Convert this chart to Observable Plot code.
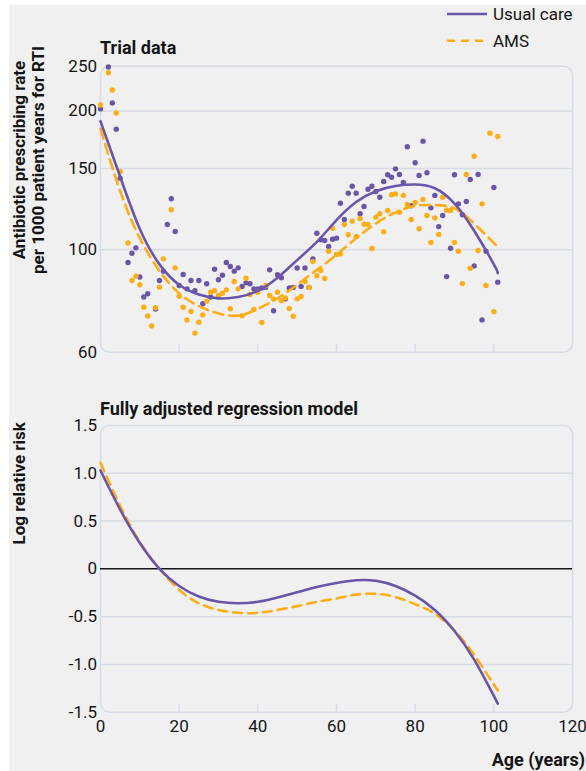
<!DOCTYPE html>
<html>
<head>
<meta charset="utf-8">
<script src="https://cdn.jsdelivr.net/npm/d3@7"></script>
<script src="https://cdn.jsdelivr.net/npm/@observablehq/plot@0.6"></script>
<style>
html, body { margin: 0; padding: 0; width: 586px; height: 771px; overflow: hidden; background: #ffffff; }
#bg { position: absolute; left: 9px; top: 5px; width: 577px; height: 766px; background: #f0f0f0; }
.abs { position: absolute; left: 0; }
#overlay { position: absolute; left: 0; top: 0; pointer-events: none; }
</style>
</head>
<body>
<div id="bg"></div>
<div id="top" class="abs" style="top:0px"></div>
<div id="bottom" class="abs" style="top:360px"></div>
<svg id="overlay" width="586" height="771" xmlns="http://www.w3.org/2000/svg"></svg>
<script>
// ---------- DATA ----------
// Trial data: antibiotic prescribing rate per 1000 patient years for RTI, by age
const usualAge  = [0,2,3,4,5,7,8,9,10,11,12,14,15,16,17,18,19,20,21,22,23,24,25,26,27,28,29,30,31,32,33,34,35,36,37,38,39,40,41,42,43,44,45,46,47,48,49,50,51,52,53,54,55,56,57,58,59,60,61,62,63,64,65,66,67,68,69,70,71,72,73,74,75,76,77,78,79,80,81,82,83,84,85,86,87,88,89,90,91,92,93,94,95,96,97,98,100,101];
const usualRate = [202,249,208,182.6,143,93.9,98.3,101,87.3,79,80.3,74.4,85.8,89.9,113.5,129,109.6,83.7,88.4,82.3,85.8,81.6,85.8,76.4,84.4,79,90.8,86.1,88.1,93.9,92,89.9,91.4,83.3,84.8,84.4,82.3,82.3,82.7,82.9,90.5,73.8,88.3,87,78.3,82.7,82.9,91.3,83.3,91.3,82.9,95.6,108.6,105.1,104.8,101.7,105.4,106,126.2,116.3,132.7,137.3,132.7,119.7,124.1,135.3,137.3,133.8,130,140.6,145.4,143.6,149.8,145.6,139.9,167.2,124.6,154.4,144.9,172,146.9,123.3,131.2,112.3,118.7,87.5,100.8,145.4,125.8,119.1,127.3,142,92.3,145.6,70.5,99.3,136.5,85.1];

const amsAge  = [0,2,3,4,5,7,8,9,10,11,12,13,14,15,16,18,19,20,21,22,23,24,25,26,27,28,29,30,31,32,33,34,35,36,37,38,39,40,41,42,43,44,45,46,47,48,49,50,51,52,53,54,55,56,57,58,59,60,61,62,63,64,65,66,67,68,69,70,71,72,73,74,75,76,77,78,79,80,81,82,83,84,85,86,87,88,89,90,91,92,93,94,95,96,97,98,99,100,101];
const amsRate = [206,242,222,198,147.8,103.5,85.8,87.7,84,75.1,71.9,68.4,74.9,83,95.6,122.1,91.4,79.3,75.1,70.5,73.5,66,69.7,72.3,77.4,80.9,81.6,79.6,80.5,81.9,74.5,85.4,82.3,72,86.8,80,74.3,80.9,69.6,83.7,79.6,78.2,80.9,77.6,78.7,74.6,71.8,78.3,79.2,85.4,82.9,94.3,87.9,90.2,86.7,99.3,111.4,97.7,98,113.5,107.8,115.4,106.9,116.9,113.6,113.5,100.7,117.7,119.7,109.4,121.7,131.6,132.2,120.6,131.2,125.4,116.3,126.6,111.1,128.6,118.7,103.7,117.3,108,130,121.9,121.7,103.7,99.3,84.5,145.6,91.2,159.5,99.7,125.8,83.7,179,73.4,176];

// Fitted curves (trial data panel)
const fitAge   = [0,5,10,15,20,25,30,35,40,45,50,55,60,65,70,75,80,85,90,95,100,101];
const fitUsual = [190,144,111,93,84,80,78.5,79,81.5,87,95,104,116,127,134,137.5,138.5,136,126,110,93,89];
const fitAms   = [183,134,106,90,80.5,75.5,72.8,72,74.5,78.5,84,90.5,97.5,106,114,120.5,124.5,125,123,114,103.5,101.5];

// Fully adjusted regression model: log relative risk
const lrrAge   = [0,5,10,15,20,25,30,35,40,45,50,55,60,65,70,75,80,85,90,95,100,101];
const lrrUsual = [1.03,0.62,0.27,0.0,-0.18,-0.29,-0.345,-0.36,-0.345,-0.3,-0.245,-0.19,-0.148,-0.12,-0.125,-0.18,-0.28,-0.43,-0.65,-0.95,-1.33,-1.41];
const lrrAms   = [1.11,0.66,0.28,0.0,-0.22,-0.36,-0.43,-0.46,-0.46,-0.43,-0.39,-0.345,-0.31,-0.27,-0.262,-0.295,-0.37,-0.47,-0.645,-0.90,-1.21,-1.27];

// Axis ticks
const ageTicks  = [0,20,40,60,80,100,120];
const rateTicks = [60,100,150,200,250];
const rateGrid  = [100,150,200];
const lrrTicks  = [-1.5,-1,-0.5,0,0.5,1,1.5];
const lrrGrid   = [-1,-0.5,0.5,1];

const seriesNames = ["Usual care","AMS"];

// ---------- STYLE ----------
const PURPLE = "#6a55a8";
const ORANGE = "#fdae17";
const GRID = "#d7dbe5";
const INK = "#151515";
const FONT = "Roboto, 'Noto Sans', sans-serif";

const usualPts = usualAge.map((a, i) => ({age: a, rate: usualRate[i]}));
const amsPts = amsAge.map((a, i) => ({age: a, rate: amsRate[i]}));
const fitRows = fitAge.map((a, i) => ({age: a, usual: fitUsual[i], ams: fitAms[i]}));
const lrrRows = lrrAge.map((a, i) => ({age: a, usual: lrrUsual[i], ams: lrrAms[i]}));
const innerTicks = ageTicks.slice(1, -1);

const topPlot = Plot.plot({
  width: 586, height: 360,
  marginLeft: 100, marginRight: 14, marginTop: 65.7, marginBottom: 8.3,
  style: {background: "none", fontFamily: FONT, fontSize: "17px", color: INK, overflow: "visible"},
  x: {domain: [0, 120], axis: null},
  y: {type: "log", domain: [60, 250]},
  marks: [
    Plot.gridY(rateGrid, {stroke: GRID, strokeOpacity: 1, strokeWidth: 1.5}),
    Plot.frame({stroke: GRID, strokeOpacity: 1, strokeWidth: 1.5, rx: 9}),
    Plot.ruleX(innerTicks, {stroke: GRID, strokeWidth: 1.5, insetTop: 278}),
    Plot.axisY({ticks: rateTicks, tickSize: 0, tickPadding: 3.5, tickFormat: d => String(d), label: null, fill: INK}),
    Plot.dot(usualPts, {x: "age", y: "rate", r: 2.7, fill: PURPLE}),
    Plot.dot(amsPts, {x: "age", y: "rate", r: 2.7, fill: ORANGE}),
    Plot.line(fitRows, {x: "age", y: "ams", stroke: ORANGE, strokeWidth: 2.6, strokeDasharray: "10,6", curve: "natural"}),
    Plot.line(fitRows, {x: "age", y: "usual", stroke: PURPLE, strokeWidth: 2.6, curve: "natural"})
  ]
});
document.getElementById("top").appendChild(topPlot);

const bottomPlot = Plot.plot({
  width: 586, height: 411,
  marginLeft: 100, marginRight: 14, marginTop: 65, marginBottom: 59.3,
  style: {background: "none", fontFamily: FONT, fontSize: "17px", color: INK, overflow: "visible"},
  x: {domain: [0, 120]},
  y: {domain: [-1.5, 1.5]},
  marks: [
    Plot.gridY(lrrGrid, {stroke: GRID, strokeOpacity: 1, strokeWidth: 1.5}),
    Plot.frame({stroke: GRID, strokeOpacity: 1, strokeWidth: 1.5, rx: 9}),
    Plot.ruleX(innerTicks, {stroke: GRID, strokeWidth: 1.5, insetTop: 278.7}),
    Plot.ruleY([0], {stroke: INK, strokeWidth: 1.5}),
    Plot.axisY({ticks: lrrTicks, tickSize: 0, tickPadding: 3.5, tickFormat: d => d === 0 ? "0" : d.toFixed(1), label: null, fill: INK}),
    Plot.axisX({ticks: ageTicks, tickSize: 0, tickPadding: 8, tickFormat: d => String(d), label: null, fill: INK}),
    Plot.line(lrrRows, {x: "age", y: "ams", stroke: ORANGE, strokeWidth: 2.6, strokeDasharray: "9,6", curve: "natural"}),
    Plot.line(lrrRows, {x: "age", y: "usual", stroke: PURPLE, strokeWidth: 2.6, curve: "natural"})
  ]
});
document.getElementById("bottom").appendChild(bottomPlot);

// ---------- TEXT: titles, axis labels, legend ----------
const ov = d3.select("#overlay").style("font-family", FONT);
const bold = (sel) => sel.attr("font-weight", 700).attr("fill", INK);

bold(ov.append("text").attr("x", 100).attr("y", 53.5).attr("font-size", 18).text("Trial data"));
bold(ov.append("text").attr("x", 100).attr("y", 415).attr("font-size", 18).text("Fully adjusted regression model"));
bold(ov.append("text").attr("x", 585).attr("y", 765.5).attr("font-size", 18).attr("text-anchor", "end").text("Age (years)"));

const yl = bold(ov.append("text").attr("transform", "translate(24.6,160) rotate(-90)")
  .attr("font-size", 17).attr("text-anchor", "middle"));
yl.append("tspan").attr("x", 0).attr("dy", 0).text("Antibiotic prescribing rate");
yl.append("tspan").attr("x", 0).attr("dy", 19).text("per 1000 patient years for RTI");

bold(ov.append("text").attr("transform", "translate(24.6,483.3) rotate(-90)")
  .attr("font-size", 17).attr("text-anchor", "middle").text("Log relative risk"));

// Legend
const lg = ov.append("g");
lg.append("line").attr("x1", 447).attr("x2", 487).attr("y1", 14).attr("y2", 14)
  .attr("stroke", PURPLE).attr("stroke-width", 2.6);
lg.append("text").attr("x", 493).attr("y", 20).attr("font-size", 17).attr("fill", INK).text(seriesNames[0]);
lg.append("line").attr("x1", 447).attr("x2", 487).attr("y1", 40.7).attr("y2", 40.7)
  .attr("stroke", ORANGE).attr("stroke-width", 2.6).attr("stroke-dasharray", "8,6");
lg.append("text").attr("x", 493).attr("y", 47).attr("font-size", 17).attr("fill", INK).text(seriesNames[1]);
</script>
</body>
</html>
